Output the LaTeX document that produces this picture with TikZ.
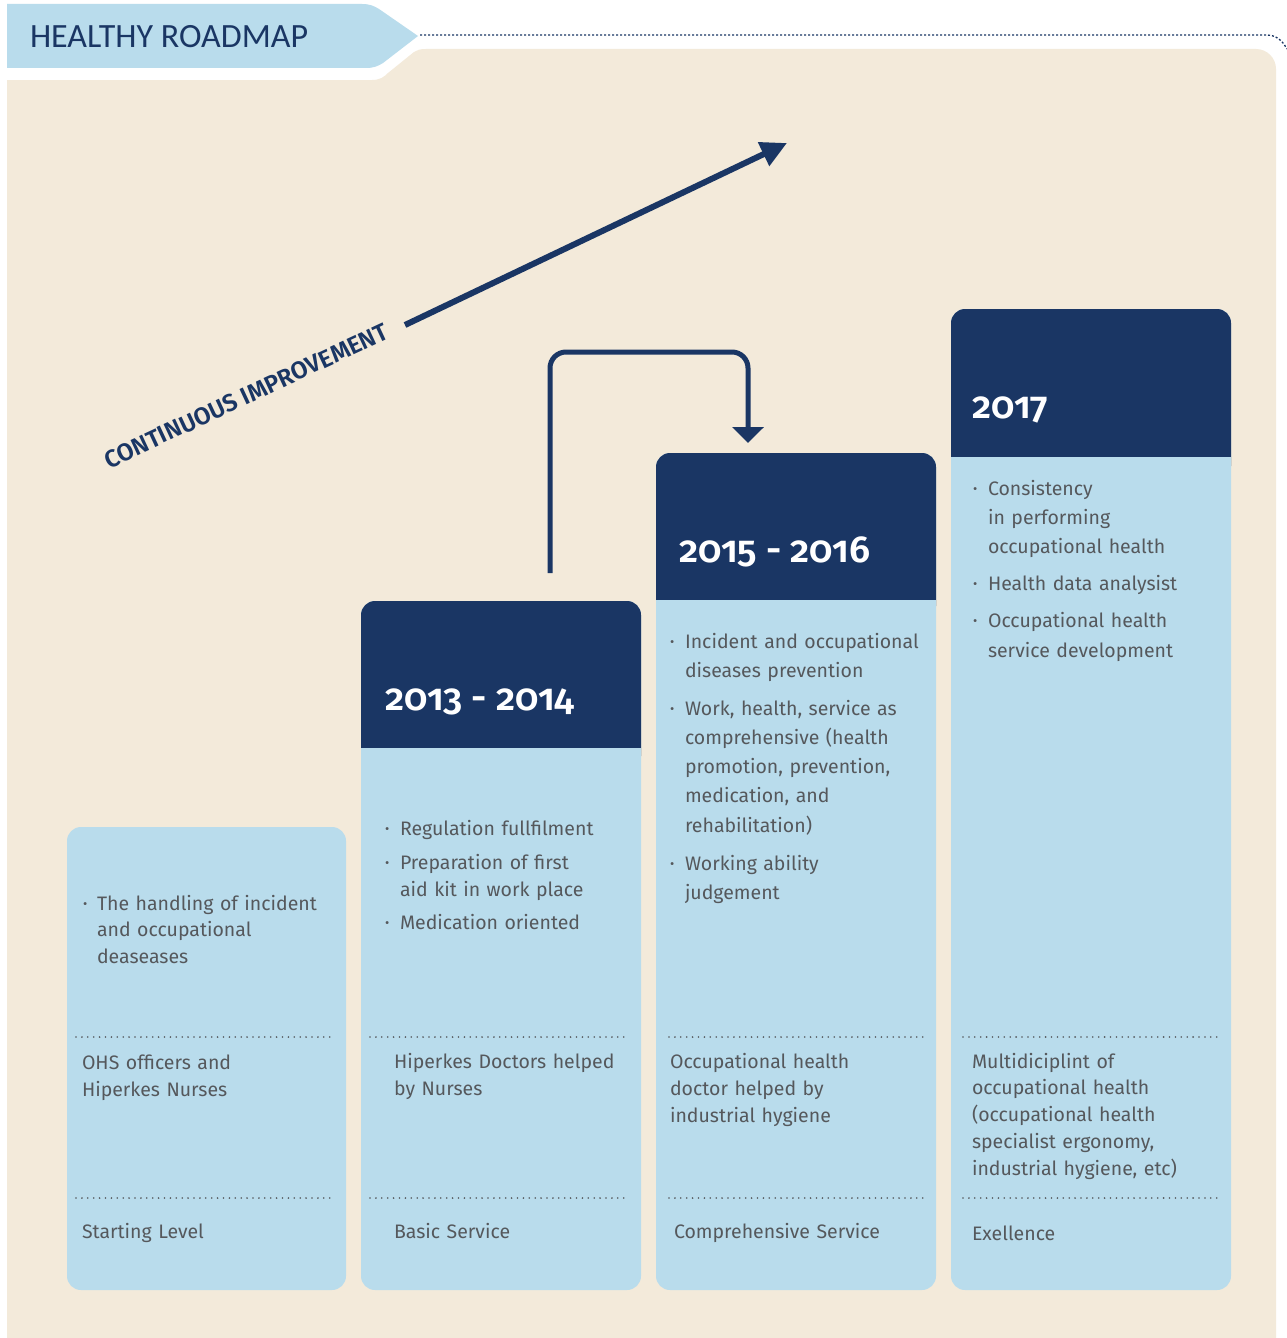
\documentclass[tikz,border=0pt]{standalone}
\usepackage{fontspec}
\setmainfont{Fira Sans}
\newfontfamily\yearfont{Fira Sans SemiBold}[Numbers=OldStyle]
\newfontfamily\titlefont{Carlito}
\usetikzlibrary{arrows.meta}
\definecolor{navy}{RGB}{26,54,100}
\definecolor{lblue}{RGB}{185,220,236}
\definecolor{beige}{RGB}{243,234,218}
\definecolor{tgray}{RGB}{85,88,92}
\tikzset{
  every node/.style={inner sep=0pt, outer sep=0pt},
  txt/.style={anchor=base west, text=tgray, align=left, text width=280pt,
    font=\fontsize{19.5}{27}\selectfont},
  txtw/.style={txt, font=\fontsize{19.5}{29.5}\selectfont},
  bul/.style={anchor=base west, text=tgray, font=\fontsize{13}{13}\selectfont},
  year/.style={anchor=base west, text=white, font=\yearfont\fontsize{37.5}{37.5}\selectfont},
  sep/.style={tgray, line width=1.8pt, dash pattern=on 0pt off 5.9pt, line cap=round},
  lbox/.style={fill=lblue, rounded corners=14},
  hbox/.style={fill=navy, rounded corners=14}
}
\begin{document}
\begin{tikzpicture}[x=1pt,y=-1pt]
\useasboundingbox (0,0) rectangle (1287,1338);
\fill[white] (0,0) rectangle (1287,1338);
% beige panel
\fill[beige] (7,1345) -- (7,80) -- (372,80) .. controls (380,80) and (384,77) .. (388,73)
  -- (414,52) .. controls (417,50) and (420,49) .. (426,49) -- (1256,49)
  .. controls (1267,49) and (1276,58) .. (1276,69) -- (1276,1345) -- cycle;
% header tab
\fill[lblue] (7,4) -- (362,4) .. controls (370,4) and (374,6) .. (379,9) -- (418,36)
  -- (383,63) .. controls (378,66) and (374,68) .. (366,68) -- (7,68) -- cycle;
\node[anchor=base west, text=navy, font=\titlefont\fontsize{34}{34}\selectfont] (title) at (30,48) {HEALTHY ROADMAP};
\coordinate (d0) at (420,35);
\coordinate (d1) at (1287,49);
\draw[navy, line width=1.3pt, dash pattern=on 2pt off 2pt] (d0) -- (1266,35) .. controls (1276,35) and (1282,40) .. (d1);

% continuous improvement
\coordinate (ca) at (405,325);
\coordinate (cb) at (787,143);
\draw[navy, line width=6pt, -{Triangle[length=26pt,width=25pt]}] (ca) -- (cb);
\node[anchor=base west, text=navy, rotate=25, font=\yearfont\fontsize{24.3}{24.3}\selectfont] (ci) at (109,469) {CONTINUOUS IMPROVEMENT};

% boxes
\fill[lbox] (67,827) rectangle (346,1290);
\fill[lbox] (361,601) rectangle (641,1290);
\fill[hbox] (361,601) rectangle (641,770);
\fill[lblue] (361,748) rectangle (641,775);
\fill[lbox] (656,453) rectangle (936,1290);
\fill[hbox] (656,453) rectangle (936,620);
\fill[lblue] (656,600) rectangle (936,630);
\fill[lbox] (951,309) rectangle (1231,1290);
\fill[hbox] (951,309) rectangle (1231,480);
\fill[lblue] (951,457) rectangle (1231,490);

% bent arrow
\coordinate (ba) at (550,573);
\coordinate (bb) at (748,443);
\draw[navy, line width=5pt, rounded corners=16, -{Triangle[length=16pt,width=31pt]}] (ba) -- (550,352) -- (748,352) -- (bb);

% separators
\foreach \a/\b in {76/333, 370/627, 669/925, 963/1220}{
  \draw[sep] (\a,1037) -- (\b,1037);
  \draw[sep] (\a,1198) -- (\b,1198);
}

% years
\node[year] (y1) at (385,710) {2013 - 2014};
\node[year] (y2) at (679,562) {2015 - 2016};
\node[year] (y3) at (972,418) {2017};

% box 1
\node[bul] (b1a) at (83,908) {•};
\node[txt, font=\fontsize{19.5}{26.5}\selectfont] (t1a) at (97,910) {The handling of incident\\and occupational\\deaseases};
\node[txt] (m1) at (82,1069) {OHS officers and\\Hiperkes Nurses};
\node[txt] (l1) at (82,1238) {Starting Level};

% box 2
\node[bul] (b2a) at (385,833) {•};
\node[txt] (t2a) at (400,835) {Regulation fullfilment};
\node[bul] (b2b) at (385,867) {•};
\node[txt] (t2b) at (400,869) {Preparation of first\\aid kit in work place};
\node[bul] (b2c) at (385,927) {•};
\node[txt] (t2c) at (400,929) {Medication oriented};
\node[txt] (m2) at (394,1068) {Hiperkes Doctors helped\\by Nurses};
\node[txt] (l2) at (394,1238) {Basic Service};

% box 3
\node[bul] (b3a) at (670,646) {•};
\node[txtw] (t3a) at (685,648) {Incident and occupational\\diseases prevention};
\node[bul] (b3b) at (670,713) {•};
\node[txtw, font=\fontsize{19.5}{29.3}\selectfont] (t3b) at (685,715) {Work, health, service as\\comprehensive (health\\promotion, prevention,\\medication, and\\rehabilitation)};
\node[bul] (b3c) at (670,868) {•};
\node[txtw] (t3c) at (685,870) {Working ability\\judgement};
\node[txt] (m3) at (670,1068) {Occupational health\\doctor helped by\\industrial hygiene};
\node[txt] (l3) at (674,1238) {Comprehensive Service};

% box 4
\node[bul] (b4a) at (973,493) {•};
\node[txtw, font=\fontsize{19.5}{29.3}\selectfont] (t4a) at (988,495) {Consistency\\in performing\\occupational health};
\node[bul] (b4b) at (973,588) {•};
\node[txtw] (t4b) at (988,590) {Health data analysist};
\node[bul] (b4c) at (973,625) {•};
\node[txtw, font=\fontsize{19.5}{30}\selectfont] (t4c) at (988,627) {Occupational health\\service development};
\node[txt, font=\fontsize{19.5}{26.8}\selectfont] (m4) at (972,1068) {Multidiciplint of\\occupational health\\(occupational health\\specialist ergonomy,\\industrial hygiene, etc)};
\node[txt] (l4) at (972,1240) {Exellence};
\end{tikzpicture}
\end{document}
